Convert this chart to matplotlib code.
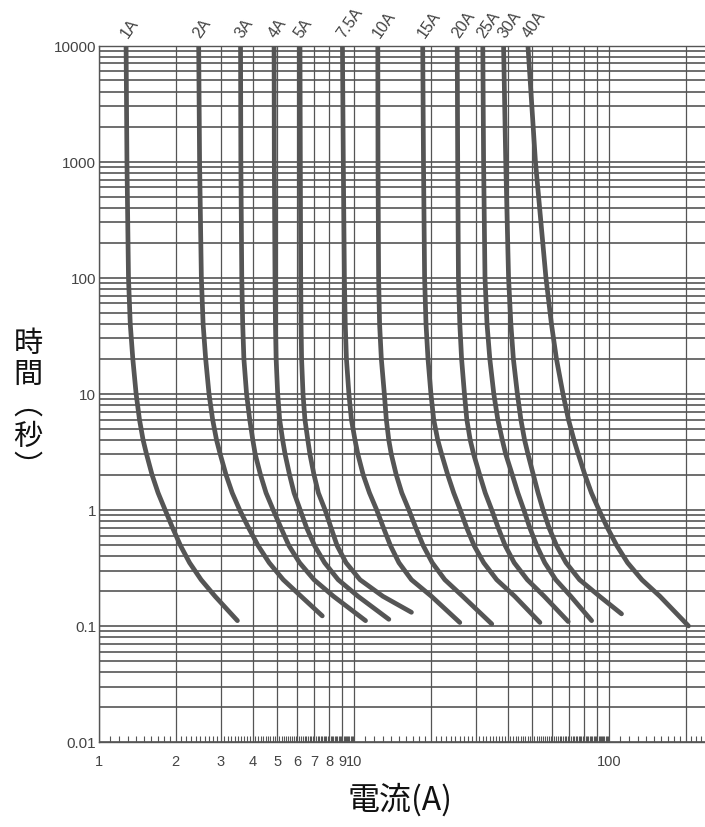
import numpy as np
import matplotlib
matplotlib.use("Agg")
import matplotlib.pyplot as plt
from matplotlib.ticker import LogLocator, NullFormatter

# fuse ratings and time-current curves (current in A, time in s)
ratings = ["1A", "2A", "3A", "4A", "5A", "7.5A", "10A", "15A", "20A", "25A", "30A", "40A"]
times = [10000, 1000, 100, 40, 20, 10, 6, 4, 3, 2, 1.4, 1, 0.7, 0.49, 0.35, 0.25, 0.18]
end_times = [0.111, 0.122, 0.111, 0.114, 0.131, 0.107, 0.104, 0.107, 0.109, 0.111, 0.127, 0.100]

amps_1a = [1.277, 1.287, 1.305, 1.326, 1.357, 1.398, 1.441, 1.489, 1.537, 1.615, 1.705, 1.816,
           1.943, 2.089, 2.266, 2.514, 2.852, 3.49]
amps_2a = [2.46, 2.48, 2.52, 2.56, 2.62, 2.70, 2.79, 2.89, 2.99, 3.15, 3.33, 3.56,
           3.86, 4.21, 4.65, 5.28, 6.20, 7.51]
amps_3a = [3.59, 3.60, 3.63, 3.66, 3.70, 3.79, 3.90, 4.01, 4.10, 4.30, 4.52, 4.82,
           5.17, 5.56, 6.12, 6.97, 8.31, 11.1]
amps_4a = [4.86, 4.87, 4.90, 4.92, 4.95, 5.02, 5.11, 5.25, 5.37, 5.59, 5.82, 6.15,
           6.52, 7.01, 7.67, 8.67, 10.37, 13.7]
amps_5a = [6.14, 6.16, 6.18, 6.20, 6.23, 6.31, 6.42, 6.59, 6.72, 6.97, 7.25, 7.70,
           8.13, 8.59, 9.31, 10.56, 12.98, 16.8]
amps_7a5 = [9.01, 9.08, 9.17, 9.24, 9.34, 9.55, 9.77, 10.09, 10.36, 10.87, 11.50, 12.27,
            13.05, 13.91, 15.01, 16.80, 20.12, 26.0]
amps_10a = [12.4, 12.42, 12.49, 12.60, 12.80, 13.15, 13.39, 13.69, 14.01, 14.65, 15.40, 16.41,
            17.48, 18.70, 20.28, 22.71, 26.68, 34.7]
amps_15a = [18.6, 18.73, 18.92, 19.16, 19.51, 20.03, 20.54, 21.30, 22.08, 23.32, 24.61, 26.10,
            27.67, 29.61, 32.27, 36.28, 42.69, 53.6]
amps_20a = [25.4, 25.51, 25.68, 26.00, 26.42, 27.11, 27.70, 28.56, 29.48, 31.12, 32.71, 34.68,
            36.78, 39.20, 42.50, 47.83, 55.72, 69.2]
amps_25a = [32.0, 32.23, 32.64, 33.24, 34.09, 35.34, 36.64, 38.16, 39.39, 41.77, 43.91, 46.34,
            48.92, 52.11, 56.01, 61.86, 70.83, 85.5]
amps_30a = [38.6, 39.37, 40.38, 41.23, 42.17, 43.72, 45.13, 46.66, 48.16, 50.52, 52.71, 55.14,
            58.21, 62.33, 67.87, 76.67, 91.85, 112]
amps_40a = [48.1, 51.47, 56.59, 59.47, 62.22, 66.0, 69.34, 72.90, 75.86, 80.48, 85.34, 91.33,
            98.61, 107.4, 118.3, 134.6, 158.4, 205]

curves = [amps_1a, amps_2a, amps_3a, amps_4a, amps_5a, amps_7a5, amps_10a,
          amps_15a, amps_20a, amps_25a, amps_30a, amps_40a]

ytick_vals = [0.01, 0.1, 1, 10, 100, 1000, 10000]
ytick_labels = ["0.01", "0.1", "1", "10", "100", "1000", "10000"]
xlabel_vals = [1, 2, 3, 4, 5, 6, 7, 8, 9, 10, 100]

tick_font = ["Liberation Sans", "DejaVu Sans"]
cjk_font = ["Noto Sans CJK JP", "DejaVu Sans"]
grey = "#555555"

fig = plt.figure(figsize=(7.05, 8.28), dpi=100)
ax = fig.add_axes([99 / 705, 1 - 743 / 828, 1 - 99 / 705, (743 - 46.5) / 828])
ax.set_xscale("log")
ax.set_yscale("log")

#Curves + rating labels above the frame
for amps, t_end, name in zip(curves, end_times, ratings):
    ax.plot(amps, times + [t_end], color=grey, lw=3.4,
            solid_capstyle="round", solid_joinstyle="round", zorder=3)
    ax.annotate(name, xy=(amps[0], 1), xycoords=("data", "axes fraction"),
                xytext=(3, 4), textcoords="offset points", rotation=55,
                rotation_mode="anchor", ha="left", va="bottom",
                fontsize=11.5, color="#444444", family=tick_font)

#X grid at 1..9 x decades, labels only where the chart has them
xgrid = np.concatenate([np.arange(1, 10) * 10.0 ** k for k in range(3)])
xlabels = [("%g" % v) if v in xlabel_vals else "" for v in xgrid]
ax.set_xticks(xgrid, xlabels)
ax.xaxis.set_minor_locator(LogLocator(base=10, subs=np.arange(1.0, 10.0, 0.1), numticks=10))
ax.xaxis.set_minor_formatter(NullFormatter())
ax.tick_params(axis="x", which="major", length=0, pad=9, labelsize=10.5, labelcolor="#444444")
ax.tick_params(axis="x", which="minor", direction="in", length=4, width=0.8, color=grey)
ax.grid(True, axis="x", which="major", color=grey, lw=0.9)

#Y grid
ax.set_yticks(ytick_vals, ytick_labels)
ax.yaxis.set_minor_locator(LogLocator(base=10, subs=np.arange(2, 10), numticks=10))
ax.yaxis.set_minor_formatter(NullFormatter())
ax.tick_params(axis="y", which="both", length=0, pad=2, labelsize=11, labelcolor="#444444")
ax.grid(True, axis="y", which="both", color=grey, lw=1.2)

for lab in ax.get_xticklabels() + ax.get_yticklabels():
    lab.set_family(tick_font)

# limits last, set_xticks widens them
ax.set_xlim(1, 238)
ax.set_ylim(0.01, 10000)

for side in ["left", "bottom", "top"]:
    ax.spines[side].set_color(grey)
    ax.spines[side].set_linewidth(1.0)
ax.spines["right"].set_visible(False)

#Axis titles
fig.text(28 / 705, 1 - 406 / 828, "時\n間\n︵\n秒\n︶", ha="center", va="center",
         fontsize=21, linespacing=1.05, family=cjk_font, color="#111111")
fig.text(400 / 705, 1 - 800 / 828, "電流(A)", ha="center", va="center",
         fontsize=23, family=cjk_font, color="#111111")

fig.savefig("out.png", dpi=100)
